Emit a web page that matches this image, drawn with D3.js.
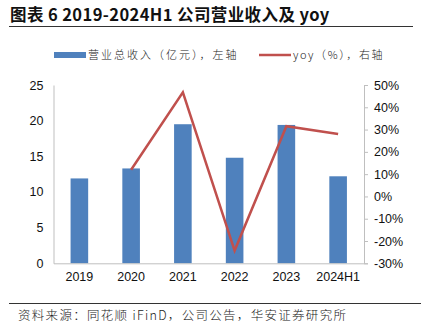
<!DOCTYPE html>
<html><head><meta charset="utf-8">
<script src="https://cdn.jsdelivr.net/npm/d3@7"></script>
<style>html,body{margin:0;padding:0;background:#fff;}svg{display:block;}</style>
</head><body>
<svg id="c" width="421" height="333"></svg>
<script>
const categories = ["2019","2020","2021","2022","2023","2024H1"];
const revenue = [11.9, 13.3, 19.5, 14.8, 19.4, 12.2];
const yoy = [null, 12, 46.7, -24.3, 31.5, 28];
const leftTicks = [0,5,10,15,20,25];
const rightTicks = [-30,-20,-10,0,10,20,30,40,50];

const svg = d3.select("#c");
const cjk = "'Noto Sans CJK SC','Noto Sans',sans-serif";
const lat = "'Liberation Sans',Arial,sans-serif";
const m = {l:53.5, r:364, t:85, b:263.3};

const x = d3.scaleBand().domain(categories).range([m.l,m.r]).paddingInner(0.66).paddingOuter(0.33);
const yL = d3.scaleLinear().domain([0,25]).range([m.b,m.t]);
const yR = d3.scaleLinear().domain([-30,50]).range([m.b,m.t]);

// title
svg.append("text").attr("x",10).attr("y",20.5).attr("font-family",cjk).attr("font-weight","bold")
  .attr("font-size",16.5).attr("letter-spacing",0.4).attr("fill","#111").text("图表 6 2019-2024H1 公司营业收入及 yoy");
svg.append("line").attr("x1",9).attr("x2",413).attr("y1",26.5).attr("y2",26.5).attr("stroke","#333").attr("stroke-width",1);

// legend
svg.append("rect").attr("x",54).attr("y",52).attr("width",32).attr("height",6).attr("fill","#4f81bd");
svg.append("text").attr("x",88).attr("y",59).attr("font-family",cjk).attr("font-size",11).attr("letter-spacing",2).attr("fill","#222").attr("font-weight",300).text("营业总收入（亿元），左轴");
svg.append("line").attr("x1",259).attr("x2",291).attr("y1",55).attr("y2",55).attr("stroke","#c0504d").attr("stroke-width",2.5);
svg.append("text").attr("x",293).attr("y",59).attr("font-family",cjk).attr("font-size",11).attr("letter-spacing",1.6).attr("fill","#222").attr("font-weight",300).text("yoy（%），右轴");

// bars
svg.append("g").selectAll("rect").data(categories).join("rect")
  .attr("x",d=>x(d)).attr("width",x.bandwidth())
  .attr("y",(d,i)=>yL(revenue[i])).attr("height",(d,i)=>yL(0)-yL(revenue[i]))
  .attr("fill","#4f81bd");

// axes
const axL = svg.append("g").attr("transform",`translate(${m.l},0)`)
  .call(d3.axisLeft(yL).tickValues(leftTicks).tickSize(0).tickPadding(10));
const axR = svg.append("g").attr("transform",`translate(${m.r},0)`)
  .call(d3.axisRight(yR).tickValues(rightTicks).tickSize(4).tickPadding(6).tickFormat(d=>d+"%"));
const axB = svg.append("g").attr("transform",`translate(0,${m.b})`)
  .call(d3.axisBottom(x).tickSize(0).tickPadding(9));
[axL,axR,axB].forEach(a=>{
  a.selectAll(".domain").attr("stroke","#bfbfbf").attr("stroke-width",1);
  a.selectAll(".tick line").attr("stroke","#bfbfbf");
  a.selectAll("text").attr("font-family",lat).attr("font-size",12.5).attr("fill","#111");
});

// line
const pts = categories.map((c,i)=>({c,v:yoy[i]})).filter(d=>d.v!==null);
svg.append("path").datum(pts)
  .attr("d",d3.line().x(d=>x(d.c)+x.bandwidth()/2).y(d=>yR(d.v)))
  .attr("fill","none").attr("stroke","#c0504d").attr("stroke-width",2.5);

// footer
svg.append("line").attr("x1",9).attr("x2",421).attr("y1",303.5).attr("y2",303.5).attr("stroke","#333").attr("stroke-width",1);
svg.append("text").attr("x",18).attr("y",320).attr("font-family",cjk).attr("font-size",12.5).attr("letter-spacing",1.3).attr("fill","#222").attr("font-weight",300)
  .text("资料来源：同花顺 iFinD，公司公告，华安证券研究所");
</script>
</body></html>
